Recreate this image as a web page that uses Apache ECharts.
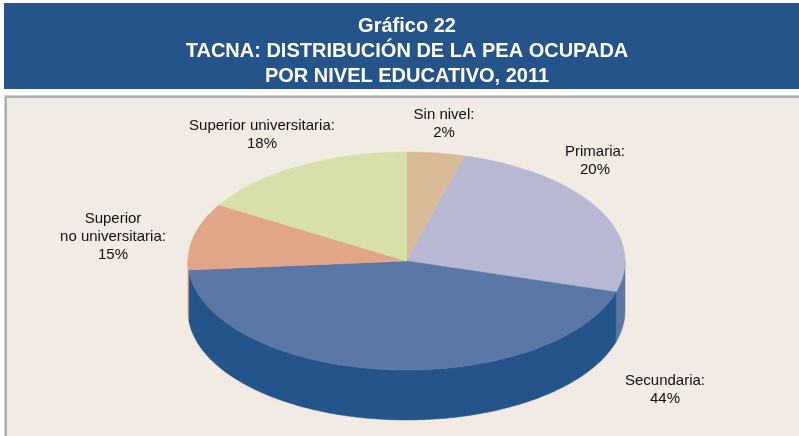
<!DOCTYPE html>
<html>
<head>
<meta charset="utf-8">
<script src="https://cdn.jsdelivr.net/npm/echarts@6/dist/echarts.min.js"></script>
<style>
  html, body { margin: 0; padding: 0; background: #ffffff; }
  #main { width: 799px; height: 436px; }
</style>
</head>
<body>
<div id="main"></div>
<script>
// slice categories, clockwise from 12 o'clock
const categories = ['Sin nivel', 'Primaria', 'Secundaria', 'Superior\nno universitaria', 'Superior universitaria']
// printed percentages
const percents = [2, 20, 44, 15, 18]
// slice sizes as drawn in the picture (the drawn wedges differ from the printed labels)
const shares = [4.3, 25.3, 44.1, 9.9, 16.4]

const topColors = ['#d9bb98', '#b7b8d2', '#5b77a5', '#e1a687', '#d7e0a8']
const sideColors = ['#b89c7c', '#5b76a3', '#24548a', '#c58a6c', '#b8c08a']
// label centres (layout only)
const labelAt = [[444, 124], [595, 161], [665, 390], [113, 237], [262, 135]]

// ellipse geometry of the tilted pie
const cx = 406.5, cy = 261, rx = 218.5, ry = 109, depth = 50

const total = shares.reduce((a, b) => a + b, 0)
const starts = []
let acc = 0
shares.forEach(v => { starts.push(acc); acc += v })

function pt(deg, dy) {
  const r = deg * Math.PI / 180
  return [cx + rx * Math.sin(r), cy - ry * Math.cos(r) + (dy || 0)]
}
function arc(a, b, dy) {
  const pts = []
  const n = Math.max(2, Math.ceil(Math.abs(b - a)))
  for (let k = 0; k <= n; k++) pts.push(pt(a + (b - a) * k / n, dy))
  return pts
}

function renderItem(params, api) {
  const i = params.dataIndex
  const v = api.value(0)
  const a = starts[i] / total * 360
  const b = a + v / total * 360
  const children = []
  const s = Math.max(a, 90), e = Math.min(b, 270)
  if (e > s) {
    children.push({
      type: 'polygon',
      shape: { points: arc(s, e, 0).concat(arc(e, s, depth)) },
      style: { fill: sideColors[i], stroke: sideColors[i], lineWidth: 0.5 }
    })
  }
  children.push({
    type: 'polygon',
    shape: { points: [[cx, cy]].concat(arc(a, b, 0)) },
    style: { fill: topColors[i], stroke: topColors[i], lineWidth: 0.5 }
  })
  children.push({
    type: 'text',
    x: labelAt[i][0],
    y: labelAt[i][1],
    style: {
      text: categories[i] + ':\n' + percents[i] + '%',
      fill: '#111111',
      font: '15px "Liberation Sans", Arial, sans-serif',
      lineHeight: 18,
      align: 'center',
      verticalAlign: 'middle'
    }
  })
  return { type: 'group', children: children }
}

const chart = echarts.init(document.getElementById('main'))
chart.setOption({
  animation: false,
  title: {
    text: 'Gráfico 22\nTACNA: DISTRIBUCIÓN DE LA PEA OCUPADA\nPOR NIVEL EDUCATIVO, 2011',
    left: 402,
    textAlign: 'center',
    top: 9,
    textStyle: {
      color: '#ffffff',
      fontFamily: '"Liberation Sans", Arial, sans-serif',
      fontWeight: 'bold',
      fontSize: 20,
      lineHeight: 25
    }
  },
  graphic: [
    { type: 'rect', z: -10, shape: { x: 4, y: 3, width: 795, height: 86 }, style: { fill: '#25548a' } },
    { type: 'rect', z: -10, shape: { x: 4.5, y: 95.5, width: 800, height: 350 }, style: { fill: '#f1ebe4', stroke: '#cfcfcf', lineWidth: 1 } },
    { type: 'rect', z: -9, shape: { x: 6, y: 97, width: 800, height: 350 }, style: { fill: '#f1ebe4', stroke: '#9a9a9a', lineWidth: 1.5 } }
  ],
  series: [{
    type: 'custom',
    coordinateSystem: 'none',
    renderItem: renderItem,
    data: shares.map(v => [v])
  }]
})
</script>
</body>
</html>
